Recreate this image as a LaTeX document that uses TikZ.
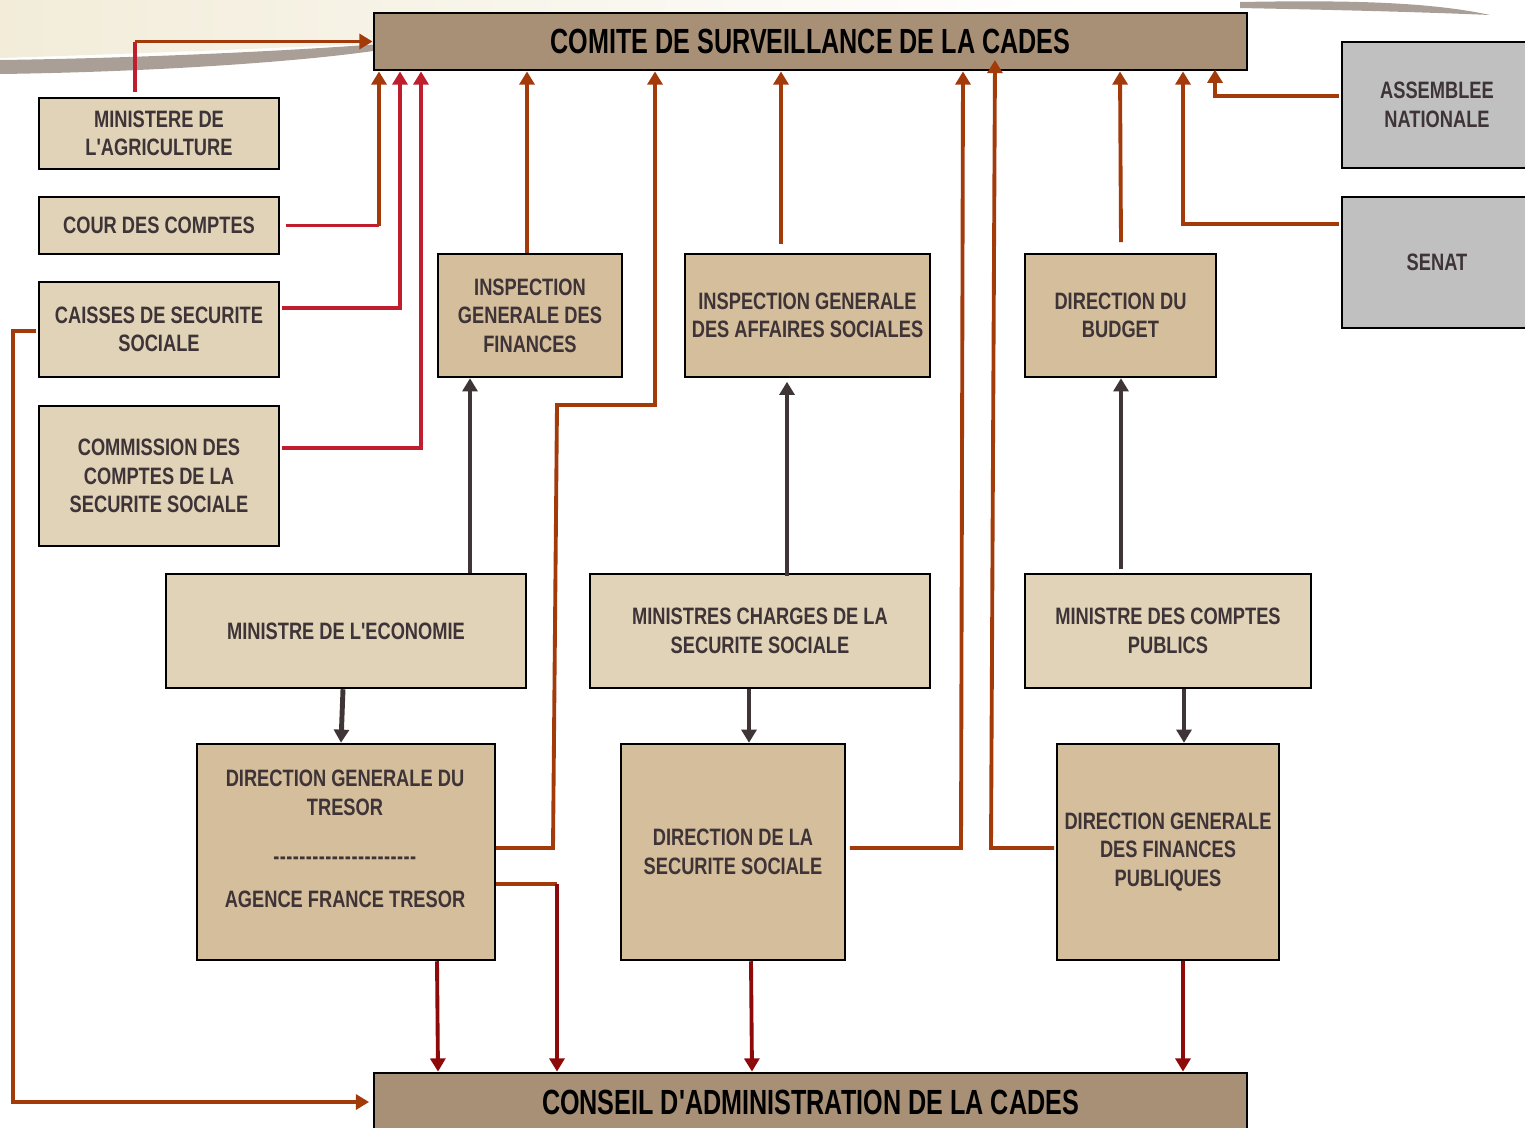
\documentclass[tikz,border=0pt]{standalone}
\usepackage{fontspec}
\setmainfont{Liberation Sans}[FakeStretch=0.77, Ligatures=TeXOff]
\newfontfamily\titlefont{Liberation Sans}[FakeStretch=0.72, Ligatures=TeXOff]
\usetikzlibrary{arrows.meta}
\definecolor{txt}{HTML}{3E3437}
\definecolor{lightb}{HTML}{E0D3B8}
\definecolor{midb}{HTML}{D4BE9B}
\definecolor{barb}{HTML}{A89077}
\definecolor{grayb}{HTML}{C0C0C0}
\definecolor{orn}{HTML}{A33A0A}
\definecolor{redl}{HTML}{BE1E2D}
\definecolor{dred}{HTML}{8E0A0A}
\definecolor{darkc}{HTML}{3F3436}
\definecolor{cream}{HTML}{F2ECD9}
\definecolor{swoosh}{HTML}{9A8E84}
\newcommand\bx[7]{\node[#6, minimum width={(#4-#2)*0.02cm}, minimum height={(#5-#3)*0.02cm}] (#1) at ({(#2+#4)/2},{(#3+#5)/2}) {#7};}
\newcommand\hy{-\kern0.25pt}
\begin{document}
\begin{tikzpicture}[x=0.02cm,y=-0.02cm,
  box/.style={draw=black, line width=1.4pt, text=txt, align=center, inner sep=0pt,
    font=\bfseries\fontsize{13.5}{16.2}\selectfont},
  lbox/.style={box, fill=lightb},
  mbox/.style={box, fill=midb},
  gbox/.style={box, fill=grayb},
  bbox/.style={box, fill=barb, line width=1.6pt, text=black, font=\titlefont\bfseries\fontsize{19.9}{22}\selectfont},
  tip/.style={-{Triangle[length=7.5pt,width=8.5pt]}},
  lo/.style={draw=orn, line width=2.2pt},
  lr/.style={draw=redl, line width=2.2pt},
  ao/.style={lo, tip},
  ar/.style={lr, tip},
  ad/.style={draw=darkc, line width=2.8pt, tip},
  adr/.style={draw=dred, line width=2.2pt, tip}
]
\useasboundingbox (0,0) rectangle (1525,1127);
% background swoosh
\shade[left color=cream, right color=white] (0,0) -- (1100,0) .. controls (800,25) and (400,45) .. (0,58) -- cycle;
\fill[swoosh, opacity=0.85] (0,60) .. controls (150,58) and (300,50) .. (380,44) -- (380,50) .. controls (300,62) and (150,72) .. (0,74) -- cycle;
\fill[swoosh, opacity=0.85] (1240,2) .. controls (1350,0) and (1430,2) .. (1490,15) .. controls (1420,12) and (1340,10) .. (1240,8) -- cycle;

% bars
\bx{topbar}{374}{13}{1247}{70}{bbox}{COMITE DE SURVEILLANCE DE LA CADES}
\bx{botbar}{374}{1073}{1247}{1131}{bbox}{CONSEIL D'ADMINISTRATION DE LA CADES}

% left column
\bx{agri}{39}{98}{279}{169}{lbox}{MINISTERE DE\\L'AGRICULTURE}
\bx{cour}{39}{197}{279}{254}{lbox}{COUR DES COMPTES}
\bx{caisses}{39}{282}{279}{377}{lbox}{CAISSES DE SECURITE\\SOCIALE}
\bx{comm}{39}{406}{279}{546}{lbox}{COMMISSION DES\\COMPTES DE LA\\SECURITE SOCIALE}

% upper row
\bx{igf}{438}{254}{622}{377}{mbox}{INSPECTION\\GENERALE DES\\FINANCES}
\bx{igas}{685}{254}{930}{377}{mbox}{INSPECTION GENERALE\\DES AFFAIRES SOCIALES}
\bx{db}{1025}{254}{1216}{377}{mbox}{DIRECTION DU\\BUDGET}

% parliament
\bx{an}{1342}{42}{1532}{168}{gbox}{ASSEMBLEE\\NATIONALE}
\bx{senat}{1342}{197}{1532}{328}{gbox}{SENAT}

% ministers
\bx{mineco}{166}{574}{526}{688}{lbox}{MINISTRE DE L'ECONOMIE}
\bx{minch}{590}{574}{930}{688}{lbox}{MINISTRES CHARGES DE LA\\SECURITE SOCIALE}
\bx{mcp}{1025}{574}{1311}{688}{lbox}{MINISTRE DES COMPTES\\PUBLICS}

% directions
\bx{dgt}{197}{744}{495}{960}{mbox}{}
\node[text=txt, align=center, inner sep=0pt, font=\bfseries\fontsize{13.5}{16.2}\selectfont] (dgttxt) at (345,839)
  {DIRECTION GENERALE DU\\TRESOR\\[12pt]\hy\hy\hy\hy\hy\hy\hy\hy\hy\hy\hy\hy\hy\hy\hy\hy\hy\hy\hy\hy\hy\hy\\[8pt]AGENCE FRANCE TRESOR};
\bx{dss}{621}{744}{845}{960}{mbox}{DIRECTION DE LA\\SECURITE SOCIALE}
\bx{dgfip}{1057}{744}{1279}{960}{mbox}{DIRECTION GENERALE\\DES FINANCES\\PUBLIQUES}

% connectors to top bar
\coordinate (agc) at (topbar.west -| 135,0);
\draw[lr] (agri.north -| 135,0) ++(0,-5) -- (agc);
\draw[ao] (agc) -- (topbar.west);

\coordinate (coc) at (cour.east -| 379,0);
\draw[lr] ([xshift=3pt]cour.east) -- (coc);
\draw[ao] (coc) -- (topbar.south -| 379,0);

\draw[ar] ([xshift=1pt]caisses.east |- 0,308) -| (topbar.south -| 400,0);
\draw[ar] ([xshift=1pt]comm.east |- 0,448) -| (topbar.south -| 421,0);

\draw[ao] (igf.north -| 527,0) -- (topbar.south -| 527,0);
\draw[ao] (dgt.east |- 0,848) -- (553,848) -- (557,405) -- (655,405) -- (topbar.south -| 655,0);
\draw[ao] ([yshift=5pt]igas.north -| 781,0) -- (topbar.south -| 781,0);
\draw[ao] ([xshift=2pt]dss.east |- 0,848) -- (961,848) -- (topbar.south -| 963,0);
\draw[ao] ([xshift=-1pt]dgfip.west |- 0,848) -- (991,848) -- (995,60);
\draw[ao] ([yshift=6pt]db.north -| 1121,0) -- (topbar.south -| 1120,0);
\draw[ao] ([xshift=-1pt]senat.west |- 0,224) -| (topbar.south -| 1183,0);
\draw[ao] ([xshift=-1pt]an.west |- 0,96) -| ([yshift=1pt]topbar.south -| 1215,0);

% connectors to bottom bar
\draw[ao] ([xshift=-1pt]caisses.west |- 0,331) -| (botbar.west -| 13,0) -- ([xshift=-2pt]botbar.west);
\draw[lo] (dgt.east |- 0,884) -- (557,884);
\draw[adr] (557,884) -- (botbar.north -| 557,0);
\draw[adr] (dgt.south -| 437,0) -- (botbar.north -| 438,0);
\draw[adr] (dss.south -| 751,0) -- (botbar.north -| 752,0);
\draw[adr] (dgfip.south -| 1183,0) -- (botbar.north -| 1183,0);

% dark hierarchy arrows
\draw[ad] (mineco.north -| 470,0) -- (igf.south -| 470,0);
\draw[ad] ([yshift=-2pt]minch.north -| 787,0) -- ([yshift=-2pt]igas.south -| 787,0);
\draw[ad] ([yshift=2pt]mcp.north -| 1121,0) -- (db.south -| 1121,0);
\draw[ad] (mineco.south -| 343,0) -- (dgt.north -| 341,0);
\draw[ad] (minch.south -| 749,0) -- (dss.north -| 749,0);
\draw[ad] (mcp.south -| 1184,0) -- (dgfip.north -| 1184,0);
\end{tikzpicture}
\end{document}
